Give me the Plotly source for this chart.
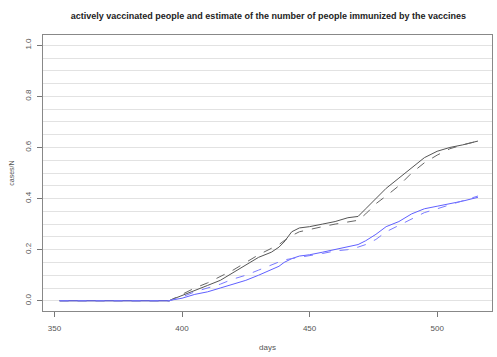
import plotly.graph_objects as go

flat_days = list(range(352, 396))
days_b = [396, 400, 405, 410, 415, 420, 425, 430, 435, 438, 440, 443, 446, 450, 455, 460, 465, 469, 472, 476, 480, 485, 490, 495, 500, 505, 510, 516]
vacc_black = [0.005, 0.02, 0.04, 0.06, 0.08, 0.11, 0.14, 0.17, 0.19, 0.21, 0.23, 0.27, 0.285, 0.29, 0.30, 0.31, 0.325, 0.33, 0.36, 0.40, 0.44, 0.48, 0.52, 0.56, 0.585, 0.60, 0.61, 0.625]
est_black = [0.005, 0.025, 0.05, 0.07, 0.095, 0.12, 0.15, 0.18, 0.205, 0.22, 0.235, 0.255, 0.27, 0.28, 0.29, 0.30, 0.31, 0.315, 0.34, 0.38, 0.41, 0.45, 0.50, 0.54, 0.57, 0.595, 0.61, 0.625]
vacc_blue = [0.003, 0.01, 0.025, 0.035, 0.05, 0.065, 0.08, 0.10, 0.12, 0.135, 0.15, 0.165, 0.175, 0.18, 0.19, 0.20, 0.21, 0.22, 0.235, 0.26, 0.29, 0.31, 0.34, 0.36, 0.37, 0.38, 0.39, 0.405]
est_blue = [0.003, 0.015, 0.035, 0.05, 0.065, 0.085, 0.10, 0.12, 0.14, 0.15, 0.16, 0.165, 0.17, 0.175, 0.185, 0.195, 0.20, 0.21, 0.22, 0.24, 0.27, 0.295, 0.32, 0.345, 0.36, 0.375, 0.39, 0.41]

x = flat_days + days_b
def full(v):
    return [0.0] * len(flat_days) + v

fig = go.Figure()
fig.add_trace(go.Scatter(x=x, y=full(vacc_black), mode="lines", line=dict(color="#555555", width=1)))
fig.add_trace(go.Scatter(x=x, y=full(est_black), mode="lines", line=dict(color="#666666", width=1, dash="dash")))
fig.add_trace(go.Scatter(x=x, y=full(vacc_blue), mode="lines", line=dict(color="#6060ff", width=1)))
fig.add_trace(go.Scatter(x=x, y=full(est_blue), mode="lines", line=dict(color="#7a7aff", width=1, dash="dash")))

fig.update_layout(
    width=497, height=357,
    margin=dict(l=43, r=5, t=35, b=46),
    paper_bgcolor="white", plot_bgcolor="white",
    showlegend=False,
    font=dict(family="Liberation Sans, Arial, sans-serif", size=8, color="#555555"),
    title=dict(text="<b>actively vaccinated people and estimate of the number of people immunized by the vaccines</b>",
               x=0.54, xanchor="center", y=0.955, yanchor="middle",
               font=dict(size=9, color="#222222")),
    xaxis=dict(range=[345.5, 521.5], tickvals=[350, 400, 450, 500], ticks="outside", ticklen=5,
               tickcolor="#777777", showgrid=False, zeroline=False, showline=True, mirror=True,
               linecolor="#888888", linewidth=1, ticklabelstandoff=4, automargin=False,
               title=dict(text="days", font=dict(size=8, color="#555555"), standoff=12)),
    yaxis=dict(range=[-0.04, 1.04], tickvals=[0, 0.2, 0.4, 0.6, 0.8, 1.0],
               ticktext=["0.0", "0.2", "0.4", "0.6", "0.8", "1.0"], tickangle=-90,
               ticks="outside", ticklen=5, tickcolor="#777777", ticklabelstandoff=3, automargin=False,
               showgrid=True, gridcolor="#e2e2e2", gridwidth=1, zeroline=False,
               showline=True, mirror=True, linecolor="#888888", linewidth=1,
               minor=dict(dtick=0.05, tick0=0, showgrid=True, gridcolor="#e2e2e2", ticklen=0),
               title=dict(text="cases/N", font=dict(size=7, color="#555555"), standoff=8)),
)
fig.write_html("out.html")
